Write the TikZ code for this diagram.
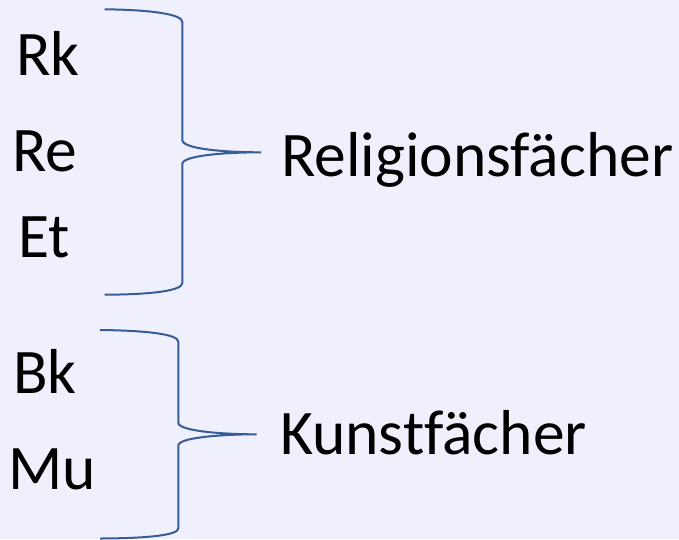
\documentclass[tikz,border=0pt]{standalone}
\usepackage{fontspec}
\setmainfont[Ligatures={NoCommon,NoContextual}]{Carlito}
\definecolor{bg}{RGB}{239,240,252}
\definecolor{bracecol}{RGB}{55,92,150}
\begin{document}
\begin{tikzpicture}[x=1pt,y=-1pt,
  lbl/.style={anchor=base west,inner sep=0pt,font=\fontsize{63.5}{63.5}\selectfont},
  bracepath/.style={draw=bracecol,line width=2pt}]
\fill[bg] (0,0) rectangle (679,539);
\useasboundingbox (0,0) rectangle (679,539);
% left labels
\node[lbl] (rk) at (16,75) {Rk};
\node[lbl] (re) at (12,171) {Re};
\node[lbl] (et) at (18,257) {Et};
\node[lbl] (bk) at (13,393) {Bk};
\node[lbl] (mu) at (8,489) {Mu};
% right labels
\node[lbl] (rel) at (281,176) {Religionsfächer};
\node[lbl] (kun) at (280,454) {Kunst\kern0pt fächer};
% brace 1
\draw[bracepath] (104.7,9.3) .. controls (150,9.8) and (182.3,14) .. (182.3,22)
  -- (182.3,140) .. controls (182.3,149) and (225,152.3) .. (261,152.3)
  .. controls (225,152.3) and (182.3,155.5) .. (182.3,164)
  -- (182.3,283) .. controls (182.3,291) and (150,294.5) .. (104.7,294.7);
% brace 2
\draw[bracepath] (100,330) .. controls (145,330.5) and (178.3,334) .. (178.3,341.7)
  -- (178.3,422.7) .. controls (178.3,431) and (222,434.3) .. (256.7,434.3)
  .. controls (222,434.3) and (178.3,437.5) .. (178.3,445.5)
  -- (178.3,528.3) .. controls (178.3,535.5) and (145,538.3) .. (100,538.5);
\end{tikzpicture}
\end{document}
